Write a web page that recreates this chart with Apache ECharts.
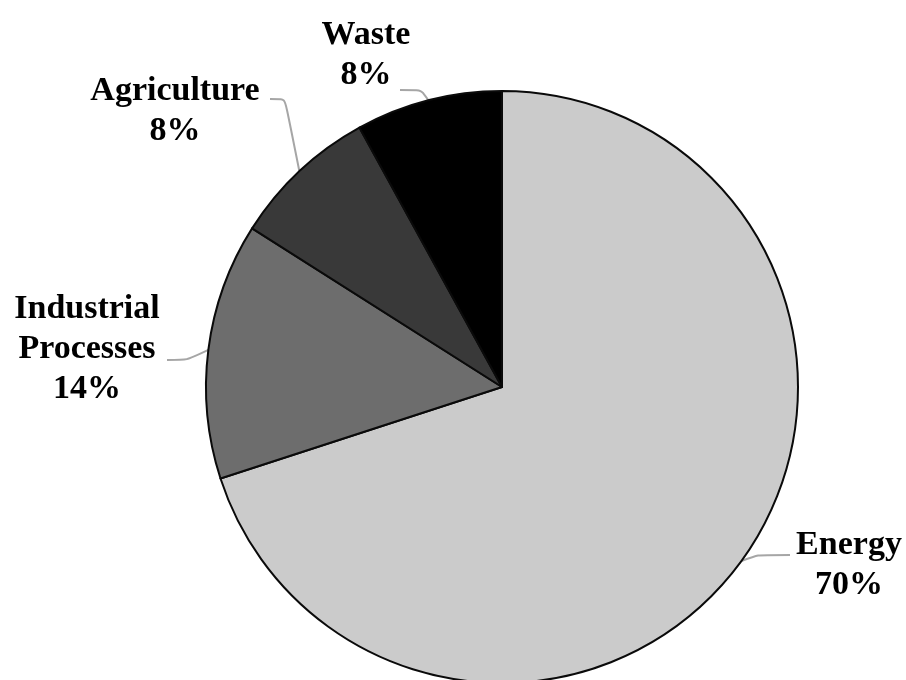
<!DOCTYPE html>
<html><head><meta charset="utf-8">
<script src="https://cdn.jsdelivr.net/npm/echarts@6/dist/echarts.min.js"></script>
<style>html,body{margin:0;background:#fff}#c{width:906px;height:680px}</style>
</head><body><div id="c"></div>
<script>
const categories = ['Energy', 'Industrial\nProcesses', 'Agriculture', 'Waste'];
const shares = [70, 14, 8, 8];
const colors = ['#cbcbcb', '#6d6d6d', '#393939', '#000000'];

// label placement (centre of text block) and leader line bend/end points
const labelAnchors = [[849, 565], [87, 349], [175, 111], [366, 55]];
const leaderBends = [[758, 555], [187, 360], [285, 99], [421, 90]];
const leaderEnds = [[790, 555], [167, 360], [270, 99], [400, 90]];

const chart = echarts.init(document.getElementById('c'), null, {renderer: 'canvas'});
chart.setOption({
  backgroundColor: '#ffffff',
  animation: false,
  series: [{
    type: 'pie',
    center: [502, 387],
    radius: 296,
    startAngle: 90,
    clockwise: true,
    avoidLabelOverlap: false,
    data: categories.map((n, i) => ({
      name: n, value: shares[i],
      itemStyle: {color: colors[i]}
    })),
    itemStyle: {borderColor: '#0a0a0a', borderWidth: 2},
    label: {
      show: true,
      position: 'outside',
      formatter: p => p.name + '\n' + p.value + '%',
      fontFamily: '"Liberation Serif", "Times New Roman", serif',
      fontWeight: 'bold',
      fontSize: 34,
      lineHeight: 40,
      color: '#000'
    },
    labelLine: {show: true, lineStyle: {color: '#a6a6a6', width: 2}, smooth: 0.2},
    labelLayout: function (params) {
      const i = params.dataIndex;
      const pts = params.labelLinePoints;
      const p0 = pts && pts[0] ? pts[0] : leaderBends[i];
      return {
        x: labelAnchors[i][0],
        y: labelAnchors[i][1],
        align: 'center',
        verticalAlign: 'middle',
        labelLinePoints: [p0, leaderBends[i], leaderEnds[i]]
      };
    },
    emphasis: {disabled: true}
  }]
});
</script>
</body></html>
